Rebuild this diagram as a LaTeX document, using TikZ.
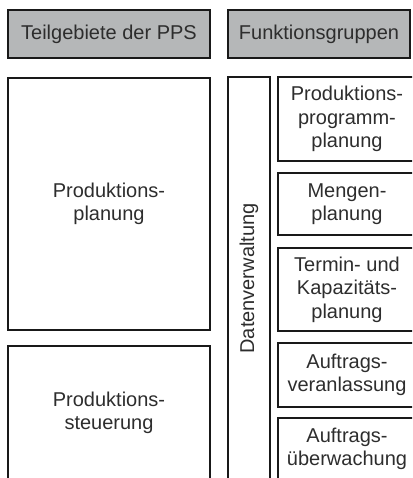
\documentclass[tikz,border=0pt]{standalone}
\usepackage{fontspec}
\setmainfont{Liberation Sans}
\usepackage{xcolor}
\definecolor{hdrgray}{RGB}{181,183,184}
\definecolor{txtgray}{RGB}{45,45,45}
\definecolor{linegray}{RGB}{25,25,25}

\begin{document}
\begin{tikzpicture}[x=1pt, y=-1pt,
  box/.style={draw=linegray, line width=2pt, inner sep=0pt, align=center, text=txtgray, font=\fontsize{20}{23.5}\selectfont, anchor=center},
  header/.style={box, fill=hdrgray, minimum height=48pt},
  area/.style={box, minimum width=202pt},
  func/.style={box, minimum width=138pt},
]
\useasboundingbox (0,0) rectangle (412,478);
\clip (0,0) rectangle (412,478);

% Column headers
\node[header, minimum width=202pt] (hdrArea) at (109,34) {Teilgebiete der PPS};
\node[header, minimum width=182pt] (hdrFunc) at (319,34) {Funktionsgruppen};

% Teilgebiete
\node[area, minimum height=252pt] (planung) at (109,204) {Produktions-\\planung};
\node[area, minimum height=134pt] (steuerung) at (109,413) {Produktions-\\steuerung};

% Datenverwaltung (vertical bar)
\node[box, rotate=90, minimum width=403pt, minimum height=42pt] (daten) at (249,278.5) {Datenverwaltung};

% Funktionsgruppen
\node[func, minimum height=84pt] (progPlan) at (347,119) {Produktions-\\programm-\\planung};
\node[func, minimum height=62pt] (mengPlan) at (347,204) {Mengen-\\planung};
\node[func, minimum height=83pt] (kapPlan) at (347,289.5) {Termin- und\\Kapazitäts-\\planung};
\node[func, minimum height=64pt] (auftVer) at (347,375) {Auftrags-\\veranlassung};
\node[func, minimum height=62pt] (auftUeb) at (347,449) {Auftrags-\\überwachung};

\end{tikzpicture}
\end{document}
